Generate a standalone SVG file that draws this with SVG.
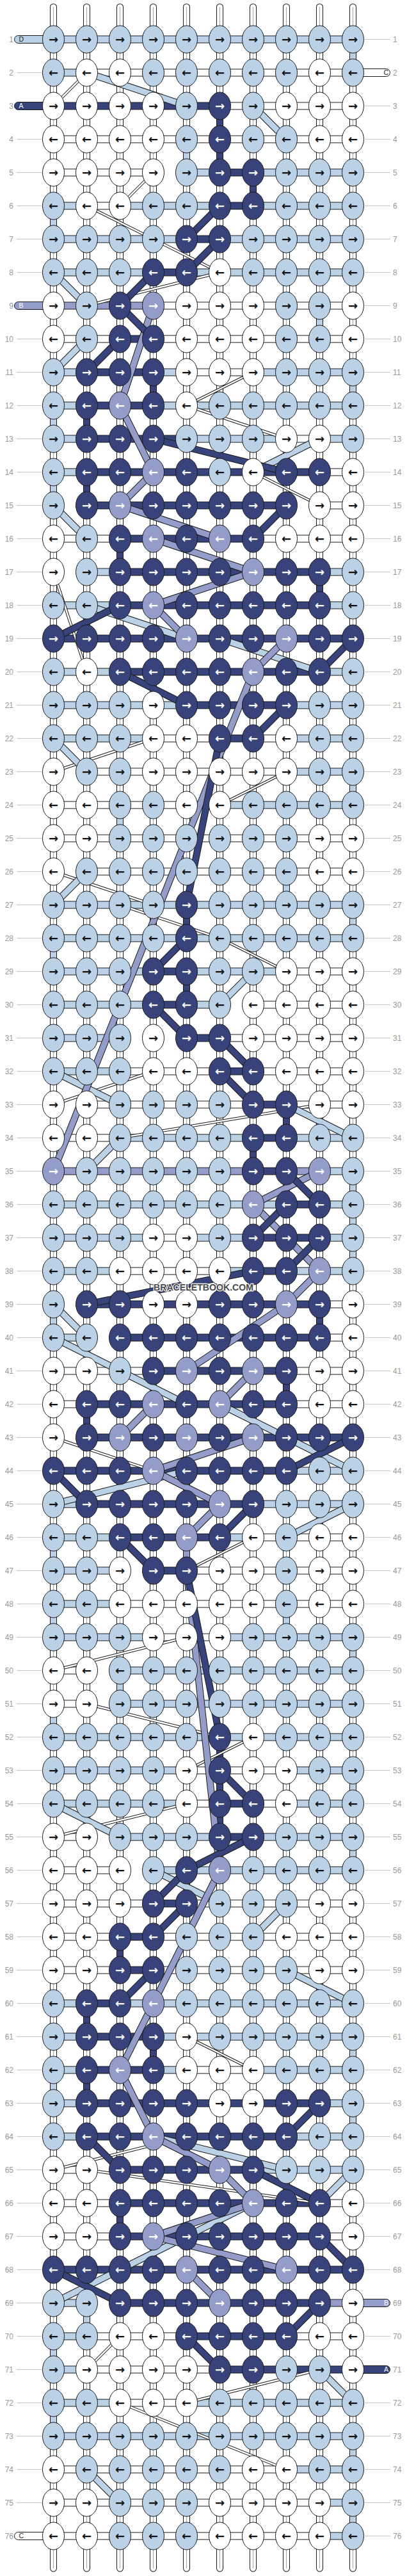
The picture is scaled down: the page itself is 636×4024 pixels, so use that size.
<svg xmlns="http://www.w3.org/2000/svg" width="636" height="4024" viewBox="0 0 636 4024">
<style>
ellipse{rx:17px;ry:21.5px;stroke:#1a1a1a;stroke-width:1}
.W{fill:#fff}.L{fill:#bbd1e5}.N{fill:#37437a}.P{fill:#949cc9}
.ar{font-family:"DejaVu Sans",sans-serif;font-weight:bold;font-size:18px;text-anchor:middle;fill:#111}
.w{fill:#fff}
.nl,.nr{font-family:"Liberation Sans",Arial,sans-serif;font-size:12px;fill:#999}
.nl{text-anchor:end}
.ll{stroke:#c4c4c4;stroke-width:1;fill:none}
.co{fill:none;stroke:#1a1a1a;stroke-width:11;stroke-linecap:round}
.cf{fill:none;stroke:#fff;stroke-width:9;stroke-linecap:round}
.cm{fill:none;stroke:#a8a8a8;stroke-width:1}
.o12{fill:none;stroke:#1a1a1a;stroke-width:12}
.f10{fill:none;stroke-width:10}
.o11{fill:none;stroke:#1a1a1a;stroke-width:11}
.f9{fill:none;stroke-width:9}
.o4{fill:none;stroke:#1a1a1a;stroke-width:4.5}
.f2{fill:none;stroke:#fff;stroke-width:2.5}
.sW{stroke:#fff}.sL{stroke:#bbd1e5}.sN{stroke:#37437a}.sP{stroke:#949cc9}
.stub{stroke:#1a1a1a;stroke-width:1}
.sl{font-family:"Liberation Sans",Arial,sans-serif;font-size:10.5px;fill:#222}
.slw{font-family:"Liberation Sans",Arial,sans-serif;font-size:10.5px;fill:#fff}
.wm{font-family:"Liberation Sans",Arial,sans-serif;font-weight:bold;font-size:15px;fill:#4a4a4a;stroke:#fff;stroke-width:2.5;paint-order:stroke;text-anchor:middle}
</style>
<defs>
<path id="cols" d="M83.5 11V4012M135.5 11V4012M187.5 11V4012M239.5 11V4012M291.5 11V4012M343.5 11V4012M395.5 11V4012M447.5 11V4012M499.5 11V4012M551.5 11V4012"/>
<path id="hW" d="M135.5 113.5H551.5M343.5 165.5H551.5M83.5 217.5H551.5M83.5 269.5H239.5M135.5 321.5H187.5M239.5 477.5H551.5M83.5 529.5H187.5M239.5 529.5H551.5M291.5 581.5H395.5M447.5 685.5H499.5M499.5 737.5H551.5M499.5 789.5H551.5M83.5 841.5H187.5M395.5 841.5H551.5M239.5 1153.5H343.5M395.5 1153.5H447.5M135.5 1205.5H447.5M83.5 1257.5H343.5M83.5 1309.5H551.5M135.5 1361.5H551.5M447.5 1517.5H551.5M395.5 1569.5H551.5M343.5 1621.5H551.5M187.5 1673.5H343.5M395.5 1673.5H551.5M135.5 1725.5H395.5M447.5 1725.5H551.5M83.5 1777.5H187.5M239.5 1933.5H291.5M187.5 1985.5H343.5M499.5 2037.5H551.5M499.5 2089.5H551.5M83.5 2141.5H239.5M447.5 2141.5H551.5M83.5 2193.5H135.5M447.5 2193.5H551.5M395.5 2401.5H551.5M291.5 2453.5H551.5M187.5 2505.5H551.5M239.5 2557.5H343.5M83.5 2609.5H135.5M83.5 2661.5H135.5M291.5 2765.5H447.5M291.5 2817.5H343.5M395.5 2817.5H447.5M83.5 2869.5H135.5M83.5 2921.5H187.5M83.5 2973.5H239.5M291.5 2973.5H551.5M83.5 3025.5H187.5M239.5 3025.5H551.5M83.5 3077.5H187.5M239.5 3077.5H551.5M291.5 3233.5H395.5M83.5 3389.5H135.5M83.5 3441.5H187.5M499.5 3441.5H551.5M83.5 3493.5H187.5M499.5 3493.5H551.5M135.5 3649.5H291.5M447.5 3649.5H551.5M135.5 3701.5H343.5M187.5 3753.5H291.5M83.5 3857.5H447.5M83.5 3909.5H499.5M83.5 3961.5H499.5"/>
<path id="hL" d="M83.5 61.5H551.5M83.5 113.5H135.5M291.5 269.5H343.5M395.5 269.5H551.5M83.5 321.5H135.5M187.5 321.5H343.5M395.5 321.5H551.5M83.5 373.5H291.5M343.5 373.5H551.5M83.5 425.5H239.5M291.5 425.5H551.5M83.5 581.5H135.5M239.5 581.5H291.5M395.5 581.5H551.5M83.5 633.5H135.5M239.5 633.5H551.5M83.5 685.5H135.5M291.5 685.5H447.5M499.5 685.5H551.5M83.5 737.5H135.5M135.5 893.5H187.5M499.5 893.5H551.5M83.5 945.5H187.5M499.5 945.5H551.5M83.5 1049.5H187.5M499.5 1049.5H551.5M83.5 1101.5H291.5M447.5 1101.5H551.5M83.5 1153.5H239.5M447.5 1153.5H551.5M447.5 1205.5H551.5M343.5 1257.5H551.5M83.5 1413.5H551.5M83.5 1465.5H551.5M83.5 1517.5H239.5M291.5 1517.5H447.5M83.5 1569.5H239.5M291.5 1569.5H343.5M83.5 1621.5H187.5M83.5 1673.5H187.5M187.5 1777.5H395.5M447.5 1777.5H551.5M499.5 1829.5H551.5M83.5 1881.5H447.5M499.5 1881.5H551.5M83.5 1933.5H239.5M291.5 1933.5H395.5M499.5 1933.5H551.5M83.5 1985.5H187.5M343.5 1985.5H395.5M447.5 1985.5H551.5M83.5 2089.5H135.5M447.5 2297.5H551.5M83.5 2349.5H135.5M395.5 2349.5H551.5M83.5 2401.5H187.5M343.5 2401.5H395.5M83.5 2453.5H187.5M83.5 2505.5H187.5M83.5 2557.5H239.5M343.5 2557.5H551.5M187.5 2609.5H551.5M187.5 2661.5H551.5M83.5 2713.5H551.5M83.5 2765.5H291.5M447.5 2765.5H551.5M83.5 2817.5H291.5M447.5 2817.5H551.5M187.5 2869.5H343.5M395.5 2869.5H551.5M239.5 2921.5H551.5M83.5 3129.5H135.5M187.5 3129.5H551.5M83.5 3181.5H135.5M239.5 3181.5H551.5M83.5 3233.5H135.5M239.5 3233.5H291.5M395.5 3233.5H551.5M83.5 3285.5H135.5M499.5 3285.5H551.5M83.5 3337.5H135.5M447.5 3337.5H551.5M395.5 3389.5H551.5M83.5 3597.5H135.5M83.5 3649.5H135.5M83.5 3701.5H135.5M83.5 3753.5H187.5M291.5 3753.5H551.5M83.5 3805.5H551.5M447.5 3857.5H551.5M499.5 3909.5H551.5M499.5 3961.5H551.5"/>
<path id="hN" d="M83.5 165.5H343.5M343.5 269.5H395.5M343.5 321.5H395.5M291.5 373.5H343.5M239.5 425.5H291.5M187.5 529.5H239.5M135.5 581.5H239.5M135.5 633.5H239.5M135.5 685.5H291.5M135.5 737.5H499.5M135.5 789.5H447.5M187.5 841.5H395.5M187.5 893.5H499.5M187.5 945.5H499.5M83.5 997.5H551.5M187.5 1049.5H499.5M291.5 1101.5H447.5M343.5 1153.5H395.5M239.5 1517.5H291.5M239.5 1569.5H291.5M291.5 1621.5H343.5M343.5 1673.5H395.5M395.5 1725.5H447.5M395.5 1777.5H447.5M395.5 1829.5H447.5M447.5 1881.5H499.5M395.5 1933.5H499.5M395.5 1985.5H447.5M135.5 2037.5H499.5M187.5 2089.5H499.5M239.5 2141.5H447.5M135.5 2193.5H447.5M135.5 2245.5H551.5M83.5 2297.5H447.5M135.5 2349.5H395.5M187.5 2401.5H343.5M239.5 2453.5H291.5M343.5 2817.5H395.5M343.5 2869.5H395.5M239.5 2973.5H291.5M187.5 3025.5H239.5M187.5 3077.5H239.5M135.5 3129.5H187.5M135.5 3181.5H239.5M135.5 3233.5H239.5M135.5 3285.5H499.5M135.5 3337.5H447.5M187.5 3389.5H395.5M187.5 3441.5H499.5M187.5 3493.5H499.5M83.5 3545.5H551.5M187.5 3597.5H499.5M291.5 3649.5H447.5M343.5 3701.5H551.5"/>
<path id="hP" d="M83.5 477.5H239.5M83.5 1829.5H395.5M447.5 1829.5H499.5M499.5 3597.5H551.5"/>
<path id="vN" d="M343.5 165.5V269.5M395.5 269.5V321.5M239.5 581.5V633.5M135.5 633.5V685.5M135.5 737.5V789.5M187.5 841.5V893.5M499.5 893.5V945.5M291.5 1413.5V1465.5M291.5 1517.5V1569.5M447.5 1725.5V1777.5M395.5 1777.5V1829.5M499.5 2037.5V2089.5M447.5 2141.5V2193.5M135.5 2193.5V2245.5M343.5 2713.5V2869.5M187.5 3025.5V3077.5M135.5 3129.5V3181.5M239.5 3181.5V3233.5M135.5 3233.5V3285.5M187.5 3441.5V3493.5"/>
<path id="vL" d="M551.5 61.5V113.5M291.5 217.5V269.5M83.5 321.5V373.5M499.5 477.5V529.5M551.5 581.5V633.5M83.5 633.5V685.5M83.5 737.5V789.5M551.5 1205.5V1257.5M187.5 1257.5V1309.5M447.5 1361.5V1413.5M551.5 1413.5V1465.5M83.5 1465.5V1517.5M551.5 1829.5V1985.5M83.5 2037.5V2089.5M83.5 2401.5V2453.5M83.5 2505.5V2557.5M447.5 2505.5V2557.5M551.5 2557.5V2609.5M187.5 2609.5V2661.5M83.5 2661.5V2713.5M551.5 2765.5V2817.5M551.5 2869.5V2921.5M551.5 3181.5V3233.5M83.5 3233.5V3285.5M551.5 3285.5V3337.5M135.5 3597.5V3649.5M83.5 3649.5V3701.5M83.5 3753.5V3805.5M551.5 3805.5V3857.5M551.5 3909.5V3961.5"/>
<path id="vP" d="M291.5 2401.5V2453.5"/>
<path id="dW" d="M135.5 113.5L83.5 165.5M239.5 269.5L187.5 321.5M135.5 321.5L239.5 373.5M135.5 321.5L343.5 425.5M343.5 425.5L135.5 477.5M291.5 633.5L395.5 581.5M291.5 633.5L447.5 685.5M395.5 737.5L499.5 789.5M83.5 893.5L135.5 1049.5M83.5 1205.5L239.5 1153.5M343.5 1257.5L447.5 1205.5M83.5 1361.5L239.5 1413.5M187.5 1413.5L343.5 1465.5M343.5 1465.5L447.5 1517.5M83.5 1725.5L239.5 1673.5M187.5 1777.5L499.5 1725.5M83.5 2245.5L239.5 2297.5M291.5 2453.5L395.5 2401.5M83.5 2609.5L291.5 2557.5M135.5 2661.5L343.5 2713.5M291.5 2765.5L395.5 2713.5M83.5 2869.5L291.5 2817.5M291.5 3181.5L395.5 3233.5M83.5 3389.5L291.5 3337.5M135.5 3389.5L499.5 3441.5M187.5 3649.5L135.5 3701.5M291.5 3753.5L499.5 3701.5M187.5 3753.5L447.5 3857.5"/>
<path id="dL" d="M135.5 113.5L291.5 165.5M395.5 165.5L447.5 217.5M83.5 425.5L135.5 477.5M135.5 529.5L83.5 581.5M499.5 685.5L395.5 737.5M83.5 789.5L135.5 841.5M135.5 945.5L291.5 997.5M343.5 997.5L499.5 1049.5M83.5 1153.5L135.5 1205.5M135.5 1361.5L83.5 1413.5M395.5 1517.5L343.5 1569.5M83.5 1673.5L187.5 1725.5M447.5 1725.5L551.5 1777.5M187.5 1777.5L135.5 1829.5M83.5 2037.5L135.5 2089.5M83.5 2089.5L187.5 2141.5M187.5 2141.5L291.5 2193.5M343.5 2193.5L447.5 2245.5M447.5 2245.5L551.5 2297.5M83.5 2349.5L291.5 2297.5M551.5 2349.5L447.5 2401.5M83.5 2817.5L187.5 2869.5M239.5 2921.5L343.5 2973.5M447.5 2973.5L395.5 3025.5M447.5 3077.5L551.5 3129.5M239.5 3337.5L447.5 3389.5M551.5 3389.5L499.5 3441.5M395.5 3441.5L187.5 3545.5M83.5 3597.5L187.5 3545.5M499.5 3701.5L551.5 3753.5M135.5 3857.5L187.5 3909.5"/>
<path id="dP" d="M239.5 477.5L187.5 633.5M187.5 633.5L239.5 737.5M239.5 737.5L187.5 789.5M187.5 789.5L343.5 841.5M239.5 841.5L395.5 893.5M395.5 893.5L239.5 945.5M239.5 945.5L291.5 997.5M447.5 997.5L395.5 1049.5M395.5 1049.5L83.5 1829.5M499.5 1829.5L395.5 1881.5M395.5 1881.5L499.5 1985.5M499.5 1985.5L447.5 2037.5M447.5 2037.5L291.5 2141.5M395.5 2141.5L343.5 2193.5M239.5 2193.5L187.5 2245.5M395.5 2245.5L239.5 2297.5M239.5 2297.5L343.5 2349.5M343.5 2349.5L291.5 2401.5M291.5 2453.5L343.5 2921.5M343.5 2921.5L187.5 3233.5M187.5 3233.5L239.5 3337.5M239.5 3337.5L343.5 3389.5M343.5 3389.5L395.5 3441.5M395.5 3441.5L239.5 3493.5M239.5 3493.5L447.5 3545.5M291.5 3545.5L343.5 3597.5"/>
<path id="dN" d="M343.5 321.5L291.5 373.5M343.5 373.5L291.5 425.5M239.5 425.5L187.5 477.5M187.5 477.5L239.5 529.5M187.5 529.5L135.5 581.5M239.5 685.5L447.5 737.5M447.5 789.5L395.5 841.5M187.5 945.5L83.5 997.5M551.5 997.5L499.5 1049.5M187.5 1049.5L291.5 1101.5M447.5 1101.5L395.5 1153.5M343.5 1153.5L291.5 1413.5M291.5 1465.5L239.5 1517.5M239.5 1569.5L291.5 1621.5M343.5 1621.5L395.5 1673.5M343.5 1673.5L395.5 1725.5M447.5 1829.5L499.5 1881.5M447.5 1881.5L395.5 1933.5M499.5 1933.5L447.5 1985.5M395.5 1985.5L135.5 2037.5M83.5 2297.5L135.5 2349.5M187.5 2401.5L239.5 2453.5M395.5 2349.5L343.5 2401.5M447.5 2297.5L551.5 2245.5M291.5 2453.5L343.5 2713.5M343.5 2765.5L395.5 2817.5M395.5 2869.5L291.5 2921.5M291.5 2921.5L239.5 2973.5M291.5 2973.5L239.5 3025.5M239.5 3077.5L187.5 3129.5M499.5 3285.5L447.5 3337.5M135.5 3337.5L187.5 3389.5M395.5 3389.5L499.5 3441.5M499.5 3493.5L551.5 3545.5M83.5 3545.5L187.5 3597.5M499.5 3597.5L447.5 3649.5M291.5 3649.5L343.5 3701.5"/>
</defs>
<rect width="636" height="4024" fill="#fff"/>
<g id="connectors">
<use href="#cols" class="co"/><use href="#cols" class="cf"/><use href="#cols" class="cm"/>
<use href="#hW" class="o12"/><use href="#hW" class="f10 sW"/>
<use href="#hL" class="o12"/><use href="#hL" class="f10 sL"/>
<use href="#hN" class="o12"/><use href="#hN" class="f10 sN"/>
<use href="#hP" class="o12"/><use href="#hP" class="f10 sP"/>
<use href="#vL" class="o11"/><use href="#vL" class="f9 sL"/>
<use href="#vN" class="o11"/><use href="#vN" class="f9 sN"/>
<use href="#vP" class="o11"/><use href="#vP" class="f9 sP"/>
<use href="#dW" class="o4"/><use href="#dW" class="f2"/>
<use href="#dL" class="o11"/><use href="#dL" class="f9 sL"/>
<use href="#dP" class="o11"/><use href="#dP" class="f9 sP"/>
<use href="#dN" class="o11"/><use href="#dN" class="f9 sN"/>
</g>
<g id="string-ends">
<rect class="stub L" x="22.5" y="55.5" width="70" height="12" rx="6"/><text class="sl" x="29.5" y="65.3">D</text>
<rect class="stub N" x="22.5" y="159.5" width="70" height="12" rx="6"/><text class="slw" x="29.5" y="169.3">A</text>
<rect class="stub P" x="22.5" y="471.5" width="70" height="12" rx="6"/><text class="slw" x="29.5" y="481.3">B</text>
<rect class="stub W" x="22.5" y="3955.5" width="70" height="12" rx="6"/><text class="sl" x="29.5" y="3965.3">C</text>
<rect class="stub W" x="541.5" y="107.5" width="68" height="12" rx="6"/><text class="sl" x="607" y="117.3" text-anchor="end">C</text>
<rect class="stub P" x="541.5" y="3591.5" width="68" height="12" rx="6"/><text class="slw" x="607" y="3601.3" text-anchor="end">B</text>
<rect class="stub N" x="541.5" y="3695.5" width="68" height="12" rx="6"/><text class="slw" x="607" y="3705.3" text-anchor="end">A</text>
</g>
<g id="knots">
<g id="row-1" transform="translate(0 61.5)"><path class="ll" d="M570 0H610"/><ellipse class="L" cx="83.5"/><ellipse class="L" cx="135.5"/><ellipse class="L" cx="187.5"/><ellipse class="L" cx="239.5"/><ellipse class="L" cx="291.5"/><ellipse class="L" cx="343.5"/><ellipse class="L" cx="395.5"/><ellipse class="L" cx="447.5"/><ellipse class="L" cx="499.5"/><ellipse class="L" cx="551.5"/><text class="ar" x="83.5 135.5 187.5 239.5 291.5 343.5 395.5 447.5 499.5 551.5" y="6">→→→→→→→→→→</text><text class="nl" x="21" y="4.3">1</text><text class="nr" x="614" y="4.3">1</text></g>
<g id="row-2" transform="translate(0 113.5)"><path class="ll" d="M26 0H66"/><ellipse class="L" cx="83.5"/><ellipse class="W" cx="135.5"/><ellipse class="W" cx="187.5"/><ellipse class="L" cx="239.5"/><ellipse class="L" cx="291.5"/><ellipse class="L" cx="343.5"/><ellipse class="L" cx="395.5"/><ellipse class="L" cx="447.5"/><ellipse class="W" cx="499.5"/><ellipse class="L" cx="551.5"/><text class="ar" x="83.5 135.5 187.5 239.5 291.5 343.5 395.5 447.5 499.5 551.5" y="6">←←←←←←←←←←</text><text class="nl" x="21" y="4.3">2</text><text class="nr" x="614" y="4.3">2</text></g>
<g id="row-3" transform="translate(0 165.5)"><path class="ll" d="M570 0H610"/><ellipse class="W" cx="83.5"/><ellipse class="W" cx="135.5"/><ellipse class="W" cx="187.5"/><ellipse class="W" cx="239.5"/><ellipse class="L" cx="291.5"/><ellipse class="N" cx="343.5"/><ellipse class="L" cx="395.5"/><ellipse class="W" cx="447.5"/><ellipse class="W" cx="499.5"/><ellipse class="W" cx="551.5"/><text class="ar" x="83.5 135.5 187.5 239.5 291.5 343.5 395.5 447.5 499.5 551.5" y="6">→→→→→<tspan class="w">→</tspan>→→→→</text><text class="nl" x="21" y="4.3">3</text><text class="nr" x="614" y="4.3">3</text></g>
<g id="row-4" transform="translate(0 217.5)"><path class="ll" d="M26 0H66M570 0H610"/><ellipse class="W" cx="83.5"/><ellipse class="W" cx="135.5"/><ellipse class="W" cx="187.5"/><ellipse class="W" cx="239.5"/><ellipse class="L" cx="291.5"/><ellipse class="N" cx="343.5"/><ellipse class="L" cx="395.5"/><ellipse class="L" cx="447.5"/><ellipse class="W" cx="499.5"/><ellipse class="W" cx="551.5"/><text class="ar" x="83.5 135.5 187.5 239.5 291.5 343.5 395.5 447.5 499.5 551.5" y="6">←←←←←<tspan class="w">←</tspan>←←←←</text><text class="nl" x="21" y="4.3">4</text><text class="nr" x="614" y="4.3">4</text></g>
<g id="row-5" transform="translate(0 269.5)"><path class="ll" d="M26 0H66M570 0H610"/><ellipse class="W" cx="83.5"/><ellipse class="W" cx="135.5"/><ellipse class="W" cx="187.5"/><ellipse class="W" cx="239.5"/><ellipse class="L" cx="291.5"/><ellipse class="N" cx="343.5"/><ellipse class="N" cx="395.5"/><ellipse class="L" cx="447.5"/><ellipse class="L" cx="499.5"/><ellipse class="L" cx="551.5"/><text class="ar" x="83.5 135.5 187.5 239.5 291.5 343.5 395.5 447.5 499.5 551.5" y="6">→→→→→<tspan class="w">→→</tspan>→→→</text><text class="nl" x="21" y="4.3">5</text><text class="nr" x="614" y="4.3">5</text></g>
<g id="row-6" transform="translate(0 321.5)"><path class="ll" d="M26 0H66M570 0H610"/><ellipse class="L" cx="83.5"/><ellipse class="W" cx="135.5"/><ellipse class="W" cx="187.5"/><ellipse class="L" cx="239.5"/><ellipse class="L" cx="291.5"/><ellipse class="N" cx="343.5"/><ellipse class="N" cx="395.5"/><ellipse class="L" cx="447.5"/><ellipse class="L" cx="499.5"/><ellipse class="L" cx="551.5"/><text class="ar" x="83.5 135.5 187.5 239.5 291.5 343.5 395.5 447.5 499.5 551.5" y="6">←←←←←<tspan class="w">←←</tspan>←←←</text><text class="nl" x="21" y="4.3">6</text><text class="nr" x="614" y="4.3">6</text></g>
<g id="row-7" transform="translate(0 373.5)"><path class="ll" d="M26 0H66M570 0H610"/><ellipse class="L" cx="83.5"/><ellipse class="L" cx="135.5"/><ellipse class="L" cx="187.5"/><ellipse class="L" cx="239.5"/><ellipse class="N" cx="291.5"/><ellipse class="N" cx="343.5"/><ellipse class="L" cx="395.5"/><ellipse class="L" cx="447.5"/><ellipse class="L" cx="499.5"/><ellipse class="L" cx="551.5"/><text class="ar" x="83.5 135.5 187.5 239.5 291.5 343.5 395.5 447.5 499.5 551.5" y="6">→→→→<tspan class="w">→→</tspan>→→→→</text><text class="nl" x="21" y="4.3">7</text><text class="nr" x="614" y="4.3">7</text></g>
<g id="row-8" transform="translate(0 425.5)"><path class="ll" d="M26 0H66M570 0H610"/><ellipse class="L" cx="83.5"/><ellipse class="L" cx="135.5"/><ellipse class="L" cx="187.5"/><ellipse class="N" cx="239.5"/><ellipse class="N" cx="291.5"/><ellipse class="W" cx="343.5"/><ellipse class="L" cx="395.5"/><ellipse class="L" cx="447.5"/><ellipse class="L" cx="499.5"/><ellipse class="L" cx="551.5"/><text class="ar" x="83.5 135.5 187.5 239.5 291.5 343.5 395.5 447.5 499.5 551.5" y="6">←←←<tspan class="w">←←</tspan>←←←←←</text><text class="nl" x="21" y="4.3">8</text><text class="nr" x="614" y="4.3">8</text></g>
<g id="row-9" transform="translate(0 477.5)"><path class="ll" d="M570 0H610"/><ellipse class="W" cx="83.5"/><ellipse class="L" cx="135.5"/><ellipse class="N" cx="187.5"/><ellipse class="P" cx="239.5"/><ellipse class="W" cx="291.5"/><ellipse class="W" cx="343.5"/><ellipse class="W" cx="395.5"/><ellipse class="L" cx="447.5"/><ellipse class="L" cx="499.5"/><ellipse class="W" cx="551.5"/><text class="ar" x="83.5 135.5 187.5 239.5 291.5 343.5 395.5 447.5 499.5 551.5" y="6">→→<tspan class="w">→→</tspan>→→→→→→</text><text class="nl" x="21" y="4.3">9</text><text class="nr" x="614" y="4.3">9</text></g>
<g id="row-10" transform="translate(0 529.5)"><path class="ll" d="M26 0H66M570 0H610"/><ellipse class="W" cx="83.5"/><ellipse class="L" cx="135.5"/><ellipse class="N" cx="187.5"/><ellipse class="N" cx="239.5"/><ellipse class="W" cx="291.5"/><ellipse class="W" cx="343.5"/><ellipse class="W" cx="395.5"/><ellipse class="L" cx="447.5"/><ellipse class="L" cx="499.5"/><ellipse class="W" cx="551.5"/><text class="ar" x="83.5 135.5 187.5 239.5 291.5 343.5 395.5 447.5 499.5 551.5" y="6">←←<tspan class="w">←←</tspan>←←←←←←</text><text class="nl" x="21" y="4.3">10</text><text class="nr" x="614" y="4.3">10</text></g>
<g id="row-11" transform="translate(0 581.5)"><path class="ll" d="M26 0H66M570 0H610"/><ellipse class="L" cx="83.5"/><ellipse class="N" cx="135.5"/><ellipse class="N" cx="187.5"/><ellipse class="N" cx="239.5"/><ellipse class="W" cx="291.5"/><ellipse class="W" cx="343.5"/><ellipse class="W" cx="395.5"/><ellipse class="L" cx="447.5"/><ellipse class="L" cx="499.5"/><ellipse class="L" cx="551.5"/><text class="ar" x="83.5 135.5 187.5 239.5 291.5 343.5 395.5 447.5 499.5 551.5" y="6">→<tspan class="w">→→→</tspan>→→→→→→</text><text class="nl" x="21" y="4.3">11</text><text class="nr" x="614" y="4.3">11</text></g>
<g id="row-12" transform="translate(0 633.5)"><path class="ll" d="M26 0H66M570 0H610"/><ellipse class="L" cx="83.5"/><ellipse class="N" cx="135.5"/><ellipse class="P" cx="187.5"/><ellipse class="N" cx="239.5"/><ellipse class="W" cx="291.5"/><ellipse class="L" cx="343.5"/><ellipse class="L" cx="395.5"/><ellipse class="L" cx="447.5"/><ellipse class="L" cx="499.5"/><ellipse class="L" cx="551.5"/><text class="ar" x="83.5 135.5 187.5 239.5 291.5 343.5 395.5 447.5 499.5 551.5" y="6">←<tspan class="w">←←←</tspan>←←←←←←</text><text class="nl" x="21" y="4.3">12</text><text class="nr" x="614" y="4.3">12</text></g>
<g id="row-13" transform="translate(0 685.5)"><path class="ll" d="M26 0H66M570 0H610"/><ellipse class="L" cx="83.5"/><ellipse class="N" cx="135.5"/><ellipse class="N" cx="187.5"/><ellipse class="N" cx="239.5"/><ellipse class="L" cx="291.5"/><ellipse class="L" cx="343.5"/><ellipse class="L" cx="395.5"/><ellipse class="W" cx="447.5"/><ellipse class="W" cx="499.5"/><ellipse class="L" cx="551.5"/><text class="ar" x="83.5 135.5 187.5 239.5 291.5 343.5 395.5 447.5 499.5 551.5" y="6">→<tspan class="w">→→→</tspan>→→→→→→</text><text class="nl" x="21" y="4.3">13</text><text class="nr" x="614" y="4.3">13</text></g>
<g id="row-14" transform="translate(0 737.5)"><path class="ll" d="M26 0H66M570 0H610"/><ellipse class="L" cx="83.5"/><ellipse class="N" cx="135.5"/><ellipse class="N" cx="187.5"/><ellipse class="P" cx="239.5"/><ellipse class="N" cx="291.5"/><ellipse class="L" cx="343.5"/><ellipse class="W" cx="395.5"/><ellipse class="N" cx="447.5"/><ellipse class="N" cx="499.5"/><ellipse class="W" cx="551.5"/><text class="ar" x="83.5 135.5 187.5 239.5 291.5 343.5 395.5 447.5 499.5 551.5" y="6">←<tspan class="w">←←←←</tspan>←←<tspan class="w">←←</tspan>←</text><text class="nl" x="21" y="4.3">14</text><text class="nr" x="614" y="4.3">14</text></g>
<g id="row-15" transform="translate(0 789.5)"><path class="ll" d="M26 0H66M570 0H610"/><ellipse class="L" cx="83.5"/><ellipse class="N" cx="135.5"/><ellipse class="P" cx="187.5"/><ellipse class="N" cx="239.5"/><ellipse class="N" cx="291.5"/><ellipse class="N" cx="343.5"/><ellipse class="N" cx="395.5"/><ellipse class="N" cx="447.5"/><ellipse class="W" cx="499.5"/><ellipse class="W" cx="551.5"/><text class="ar" x="83.5 135.5 187.5 239.5 291.5 343.5 395.5 447.5 499.5 551.5" y="6">→<tspan class="w">→→→→→→→</tspan>→→</text><text class="nl" x="21" y="4.3">15</text><text class="nr" x="614" y="4.3">15</text></g>
<g id="row-16" transform="translate(0 841.5)"><path class="ll" d="M26 0H66M570 0H610"/><ellipse class="W" cx="83.5"/><ellipse class="L" cx="135.5"/><ellipse class="N" cx="187.5"/><ellipse class="P" cx="239.5"/><ellipse class="N" cx="291.5"/><ellipse class="P" cx="343.5"/><ellipse class="N" cx="395.5"/><ellipse class="W" cx="447.5"/><ellipse class="W" cx="499.5"/><ellipse class="W" cx="551.5"/><text class="ar" x="83.5 135.5 187.5 239.5 291.5 343.5 395.5 447.5 499.5 551.5" y="6">←←<tspan class="w">←←←←←</tspan>←←←</text><text class="nl" x="21" y="4.3">16</text><text class="nr" x="614" y="4.3">16</text></g>
<g id="row-17" transform="translate(0 893.5)"><path class="ll" d="M26 0H66M570 0H610"/><ellipse class="W" cx="83.5"/><ellipse class="L" cx="135.5"/><ellipse class="N" cx="187.5"/><ellipse class="N" cx="239.5"/><ellipse class="N" cx="291.5"/><ellipse class="N" cx="343.5"/><ellipse class="P" cx="395.5"/><ellipse class="N" cx="447.5"/><ellipse class="N" cx="499.5"/><ellipse class="L" cx="551.5"/><text class="ar" x="83.5 135.5 187.5 239.5 291.5 343.5 395.5 447.5 499.5 551.5" y="6">→→<tspan class="w">→→→→→→→</tspan>→</text><text class="nl" x="21" y="4.3">17</text><text class="nr" x="614" y="4.3">17</text></g>
<g id="row-18" transform="translate(0 945.5)"><path class="ll" d="M26 0H66M570 0H610"/><ellipse class="L" cx="83.5"/><ellipse class="L" cx="135.5"/><ellipse class="N" cx="187.5"/><ellipse class="P" cx="239.5"/><ellipse class="N" cx="291.5"/><ellipse class="N" cx="343.5"/><ellipse class="N" cx="395.5"/><ellipse class="N" cx="447.5"/><ellipse class="N" cx="499.5"/><ellipse class="L" cx="551.5"/><text class="ar" x="83.5 135.5 187.5 239.5 291.5 343.5 395.5 447.5 499.5 551.5" y="6">←←<tspan class="w">←←←←←←←</tspan>←</text><text class="nl" x="21" y="4.3">18</text><text class="nr" x="614" y="4.3">18</text></g>
<g id="row-19" transform="translate(0 997.5)"><path class="ll" d="M26 0H66M570 0H610"/><ellipse class="N" cx="83.5"/><ellipse class="N" cx="135.5"/><ellipse class="N" cx="187.5"/><ellipse class="N" cx="239.5"/><ellipse class="P" cx="291.5"/><ellipse class="N" cx="343.5"/><ellipse class="N" cx="395.5"/><ellipse class="P" cx="447.5"/><ellipse class="N" cx="499.5"/><ellipse class="N" cx="551.5"/><text class="ar" x="83.5 135.5 187.5 239.5 291.5 343.5 395.5 447.5 499.5 551.5" y="6"><tspan class="w">→→→→→→→→→→</tspan></text><text class="nl" x="21" y="4.3">19</text><text class="nr" x="614" y="4.3">19</text></g>
<g id="row-20" transform="translate(0 1049.5)"><path class="ll" d="M26 0H66M570 0H610"/><ellipse class="L" cx="83.5"/><ellipse class="W" cx="135.5"/><ellipse class="N" cx="187.5"/><ellipse class="N" cx="239.5"/><ellipse class="N" cx="291.5"/><ellipse class="N" cx="343.5"/><ellipse class="P" cx="395.5"/><ellipse class="N" cx="447.5"/><ellipse class="N" cx="499.5"/><ellipse class="L" cx="551.5"/><text class="ar" x="83.5 135.5 187.5 239.5 291.5 343.5 395.5 447.5 499.5 551.5" y="6">←←<tspan class="w">←←←←←←←</tspan>←</text><text class="nl" x="21" y="4.3">20</text><text class="nr" x="614" y="4.3">20</text></g>
<g id="row-21" transform="translate(0 1101.5)"><path class="ll" d="M26 0H66M570 0H610"/><ellipse class="L" cx="83.5"/><ellipse class="L" cx="135.5"/><ellipse class="L" cx="187.5"/><ellipse class="W" cx="239.5"/><ellipse class="N" cx="291.5"/><ellipse class="N" cx="343.5"/><ellipse class="N" cx="395.5"/><ellipse class="N" cx="447.5"/><ellipse class="L" cx="499.5"/><ellipse class="L" cx="551.5"/><text class="ar" x="83.5 135.5 187.5 239.5 291.5 343.5 395.5 447.5 499.5 551.5" y="6">→→→→<tspan class="w">→→→→</tspan>→→</text><text class="nl" x="21" y="4.3">21</text><text class="nr" x="614" y="4.3">21</text></g>
<g id="row-22" transform="translate(0 1153.5)"><path class="ll" d="M26 0H66M570 0H610"/><ellipse class="L" cx="83.5"/><ellipse class="L" cx="135.5"/><ellipse class="L" cx="187.5"/><ellipse class="W" cx="239.5"/><ellipse class="W" cx="291.5"/><ellipse class="N" cx="343.5"/><ellipse class="N" cx="395.5"/><ellipse class="W" cx="447.5"/><ellipse class="L" cx="499.5"/><ellipse class="L" cx="551.5"/><text class="ar" x="83.5 135.5 187.5 239.5 291.5 343.5 395.5 447.5 499.5 551.5" y="6">←←←←←<tspan class="w">←←</tspan>←←←</text><text class="nl" x="21" y="4.3">22</text><text class="nr" x="614" y="4.3">22</text></g>
<g id="row-23" transform="translate(0 1205.5)"><path class="ll" d="M26 0H66M570 0H610"/><ellipse class="W" cx="83.5"/><ellipse class="L" cx="135.5"/><ellipse class="L" cx="187.5"/><ellipse class="W" cx="239.5"/><ellipse class="W" cx="291.5"/><ellipse class="W" cx="343.5"/><ellipse class="W" cx="395.5"/><ellipse class="W" cx="447.5"/><ellipse class="L" cx="499.5"/><ellipse class="L" cx="551.5"/><text class="ar" x="83.5 135.5 187.5 239.5 291.5 343.5 395.5 447.5 499.5 551.5" y="6">→→→→→→→→→→</text><text class="nl" x="21" y="4.3">23</text><text class="nr" x="614" y="4.3">23</text></g>
<g id="row-24" transform="translate(0 1257.5)"><path class="ll" d="M26 0H66M570 0H610"/><ellipse class="W" cx="83.5"/><ellipse class="W" cx="135.5"/><ellipse class="L" cx="187.5"/><ellipse class="L" cx="239.5"/><ellipse class="W" cx="291.5"/><ellipse class="W" cx="343.5"/><ellipse class="L" cx="395.5"/><ellipse class="L" cx="447.5"/><ellipse class="L" cx="499.5"/><ellipse class="L" cx="551.5"/><text class="ar" x="83.5 135.5 187.5 239.5 291.5 343.5 395.5 447.5 499.5 551.5" y="6">←←←←←←←←←←</text><text class="nl" x="21" y="4.3">24</text><text class="nr" x="614" y="4.3">24</text></g>
<g id="row-25" transform="translate(0 1309.5)"><path class="ll" d="M26 0H66M570 0H610"/><ellipse class="W" cx="83.5"/><ellipse class="W" cx="135.5"/><ellipse class="L" cx="187.5"/><ellipse class="L" cx="239.5"/><ellipse class="L" cx="291.5"/><ellipse class="L" cx="343.5"/><ellipse class="L" cx="395.5"/><ellipse class="L" cx="447.5"/><ellipse class="W" cx="499.5"/><ellipse class="W" cx="551.5"/><text class="ar" x="83.5 135.5 187.5 239.5 291.5 343.5 395.5 447.5 499.5 551.5" y="6">→→→→→→→→→→</text><text class="nl" x="21" y="4.3">25</text><text class="nr" x="614" y="4.3">25</text></g>
<g id="row-26" transform="translate(0 1361.5)"><path class="ll" d="M26 0H66M570 0H610"/><ellipse class="W" cx="83.5"/><ellipse class="L" cx="135.5"/><ellipse class="L" cx="187.5"/><ellipse class="L" cx="239.5"/><ellipse class="L" cx="291.5"/><ellipse class="L" cx="343.5"/><ellipse class="L" cx="395.5"/><ellipse class="L" cx="447.5"/><ellipse class="W" cx="499.5"/><ellipse class="W" cx="551.5"/><text class="ar" x="83.5 135.5 187.5 239.5 291.5 343.5 395.5 447.5 499.5 551.5" y="6">←←←←←←←←←←</text><text class="nl" x="21" y="4.3">26</text><text class="nr" x="614" y="4.3">26</text></g>
<g id="row-27" transform="translate(0 1413.5)"><path class="ll" d="M26 0H66M570 0H610"/><ellipse class="L" cx="83.5"/><ellipse class="L" cx="135.5"/><ellipse class="L" cx="187.5"/><ellipse class="L" cx="239.5"/><ellipse class="N" cx="291.5"/><ellipse class="L" cx="343.5"/><ellipse class="L" cx="395.5"/><ellipse class="L" cx="447.5"/><ellipse class="L" cx="499.5"/><ellipse class="L" cx="551.5"/><text class="ar" x="83.5 135.5 187.5 239.5 291.5 343.5 395.5 447.5 499.5 551.5" y="6">→→→→<tspan class="w">→</tspan>→→→→→</text><text class="nl" x="21" y="4.3">27</text><text class="nr" x="614" y="4.3">27</text></g>
<g id="row-28" transform="translate(0 1465.5)"><path class="ll" d="M26 0H66M570 0H610"/><ellipse class="L" cx="83.5"/><ellipse class="L" cx="135.5"/><ellipse class="L" cx="187.5"/><ellipse class="L" cx="239.5"/><ellipse class="N" cx="291.5"/><ellipse class="L" cx="343.5"/><ellipse class="L" cx="395.5"/><ellipse class="L" cx="447.5"/><ellipse class="L" cx="499.5"/><ellipse class="L" cx="551.5"/><text class="ar" x="83.5 135.5 187.5 239.5 291.5 343.5 395.5 447.5 499.5 551.5" y="6">←←←←<tspan class="w">←</tspan>←←←←←</text><text class="nl" x="21" y="4.3">28</text><text class="nr" x="614" y="4.3">28</text></g>
<g id="row-29" transform="translate(0 1517.5)"><path class="ll" d="M26 0H66M570 0H610"/><ellipse class="L" cx="83.5"/><ellipse class="L" cx="135.5"/><ellipse class="L" cx="187.5"/><ellipse class="N" cx="239.5"/><ellipse class="N" cx="291.5"/><ellipse class="L" cx="343.5"/><ellipse class="L" cx="395.5"/><ellipse class="W" cx="447.5"/><ellipse class="W" cx="499.5"/><ellipse class="W" cx="551.5"/><text class="ar" x="83.5 135.5 187.5 239.5 291.5 343.5 395.5 447.5 499.5 551.5" y="6">→→→<tspan class="w">→→</tspan>→→→→→</text><text class="nl" x="21" y="4.3">29</text><text class="nr" x="614" y="4.3">29</text></g>
<g id="row-30" transform="translate(0 1569.5)"><path class="ll" d="M26 0H66M570 0H610"/><ellipse class="L" cx="83.5"/><ellipse class="L" cx="135.5"/><ellipse class="L" cx="187.5"/><ellipse class="N" cx="239.5"/><ellipse class="N" cx="291.5"/><ellipse class="L" cx="343.5"/><ellipse class="W" cx="395.5"/><ellipse class="W" cx="447.5"/><ellipse class="W" cx="499.5"/><ellipse class="W" cx="551.5"/><text class="ar" x="83.5 135.5 187.5 239.5 291.5 343.5 395.5 447.5 499.5 551.5" y="6">←←←<tspan class="w">←←</tspan>←←←←←</text><text class="nl" x="21" y="4.3">30</text><text class="nr" x="614" y="4.3">30</text></g>
<g id="row-31" transform="translate(0 1621.5)"><path class="ll" d="M26 0H66M570 0H610"/><ellipse class="L" cx="83.5"/><ellipse class="L" cx="135.5"/><ellipse class="L" cx="187.5"/><ellipse class="W" cx="239.5"/><ellipse class="N" cx="291.5"/><ellipse class="N" cx="343.5"/><ellipse class="W" cx="395.5"/><ellipse class="W" cx="447.5"/><ellipse class="W" cx="499.5"/><ellipse class="W" cx="551.5"/><text class="ar" x="83.5 135.5 187.5 239.5 291.5 343.5 395.5 447.5 499.5 551.5" y="6">→→→→<tspan class="w">→→</tspan>→→→→</text><text class="nl" x="21" y="4.3">31</text><text class="nr" x="614" y="4.3">31</text></g>
<g id="row-32" transform="translate(0 1673.5)"><path class="ll" d="M26 0H66M570 0H610"/><ellipse class="L" cx="83.5"/><ellipse class="L" cx="135.5"/><ellipse class="L" cx="187.5"/><ellipse class="W" cx="239.5"/><ellipse class="W" cx="291.5"/><ellipse class="N" cx="343.5"/><ellipse class="N" cx="395.5"/><ellipse class="W" cx="447.5"/><ellipse class="W" cx="499.5"/><ellipse class="W" cx="551.5"/><text class="ar" x="83.5 135.5 187.5 239.5 291.5 343.5 395.5 447.5 499.5 551.5" y="6">←←←←←<tspan class="w">←←</tspan>←←←</text><text class="nl" x="21" y="4.3">32</text><text class="nr" x="614" y="4.3">32</text></g>
<g id="row-33" transform="translate(0 1725.5)"><path class="ll" d="M26 0H66M570 0H610"/><ellipse class="W" cx="83.5"/><ellipse class="W" cx="135.5"/><ellipse class="L" cx="187.5"/><ellipse class="L" cx="239.5"/><ellipse class="L" cx="291.5"/><ellipse class="L" cx="343.5"/><ellipse class="N" cx="395.5"/><ellipse class="N" cx="447.5"/><ellipse class="W" cx="499.5"/><ellipse class="W" cx="551.5"/><text class="ar" x="83.5 135.5 187.5 239.5 291.5 343.5 395.5 447.5 499.5 551.5" y="6">→→→→→→<tspan class="w">→→</tspan>→→</text><text class="nl" x="21" y="4.3">33</text><text class="nr" x="614" y="4.3">33</text></g>
<g id="row-34" transform="translate(0 1777.5)"><path class="ll" d="M26 0H66M570 0H610"/><ellipse class="W" cx="83.5"/><ellipse class="W" cx="135.5"/><ellipse class="L" cx="187.5"/><ellipse class="L" cx="239.5"/><ellipse class="L" cx="291.5"/><ellipse class="L" cx="343.5"/><ellipse class="N" cx="395.5"/><ellipse class="N" cx="447.5"/><ellipse class="L" cx="499.5"/><ellipse class="L" cx="551.5"/><text class="ar" x="83.5 135.5 187.5 239.5 291.5 343.5 395.5 447.5 499.5 551.5" y="6">←←←←←←<tspan class="w">←←</tspan>←←</text><text class="nl" x="21" y="4.3">34</text><text class="nr" x="614" y="4.3">34</text></g>
<g id="row-35" transform="translate(0 1829.5)"><path class="ll" d="M26 0H66M570 0H610"/><ellipse class="P" cx="83.5"/><ellipse class="L" cx="135.5"/><ellipse class="L" cx="187.5"/><ellipse class="L" cx="239.5"/><ellipse class="L" cx="291.5"/><ellipse class="L" cx="343.5"/><ellipse class="N" cx="395.5"/><ellipse class="N" cx="447.5"/><ellipse class="P" cx="499.5"/><ellipse class="L" cx="551.5"/><text class="ar" x="83.5 135.5 187.5 239.5 291.5 343.5 395.5 447.5 499.5 551.5" y="6"><tspan class="w">→</tspan>→→→→→<tspan class="w">→→→</tspan>→</text><text class="nl" x="21" y="4.3">35</text><text class="nr" x="614" y="4.3">35</text></g>
<g id="row-36" transform="translate(0 1881.5)"><path class="ll" d="M26 0H66M570 0H610"/><ellipse class="L" cx="83.5"/><ellipse class="L" cx="135.5"/><ellipse class="L" cx="187.5"/><ellipse class="L" cx="239.5"/><ellipse class="L" cx="291.5"/><ellipse class="L" cx="343.5"/><ellipse class="P" cx="395.5"/><ellipse class="N" cx="447.5"/><ellipse class="N" cx="499.5"/><ellipse class="L" cx="551.5"/><text class="ar" x="83.5 135.5 187.5 239.5 291.5 343.5 395.5 447.5 499.5 551.5" y="6">←←←←←←<tspan class="w">←←←</tspan>←</text><text class="nl" x="21" y="4.3">36</text><text class="nr" x="614" y="4.3">36</text></g>
<g id="row-37" transform="translate(0 1933.5)"><path class="ll" d="M26 0H66M570 0H610"/><ellipse class="L" cx="83.5"/><ellipse class="L" cx="135.5"/><ellipse class="L" cx="187.5"/><ellipse class="W" cx="239.5"/><ellipse class="W" cx="291.5"/><ellipse class="L" cx="343.5"/><ellipse class="N" cx="395.5"/><ellipse class="N" cx="447.5"/><ellipse class="N" cx="499.5"/><ellipse class="L" cx="551.5"/><text class="ar" x="83.5 135.5 187.5 239.5 291.5 343.5 395.5 447.5 499.5 551.5" y="6">→→→→→→<tspan class="w">→→→</tspan>→</text><text class="nl" x="21" y="4.3">37</text><text class="nr" x="614" y="4.3">37</text></g>
<g id="row-38" transform="translate(0 1985.5)"><path class="ll" d="M26 0H66M570 0H610"/><ellipse class="L" cx="83.5"/><ellipse class="L" cx="135.5"/><ellipse class="W" cx="187.5"/><ellipse class="W" cx="239.5"/><ellipse class="W" cx="291.5"/><ellipse class="W" cx="343.5"/><ellipse class="N" cx="395.5"/><ellipse class="N" cx="447.5"/><ellipse class="P" cx="499.5"/><ellipse class="L" cx="551.5"/><text class="ar" x="83.5 135.5 187.5 239.5 291.5 343.5 395.5 447.5 499.5 551.5" y="6">←←←←←←<tspan class="w">←←←</tspan>←</text><text class="nl" x="21" y="4.3">38</text><text class="nr" x="614" y="4.3">38</text></g>
<g id="row-39" transform="translate(0 2037.5)"><path class="ll" d="M26 0H66M570 0H610"/><ellipse class="L" cx="83.5"/><ellipse class="N" cx="135.5"/><ellipse class="N" cx="187.5"/><ellipse class="W" cx="239.5"/><ellipse class="W" cx="291.5"/><ellipse class="N" cx="343.5"/><ellipse class="N" cx="395.5"/><ellipse class="P" cx="447.5"/><ellipse class="N" cx="499.5"/><ellipse class="W" cx="551.5"/><text class="ar" x="83.5 135.5 187.5 239.5 291.5 343.5 395.5 447.5 499.5 551.5" y="6">→<tspan class="w">→→</tspan>→→<tspan class="w">→→→→</tspan>→</text><text class="nl" x="21" y="4.3">39</text><text class="nr" x="614" y="4.3">39</text></g>
<g id="row-40" transform="translate(0 2089.5)"><path class="ll" d="M26 0H66M570 0H610"/><ellipse class="L" cx="83.5"/><ellipse class="L" cx="135.5"/><ellipse class="N" cx="187.5"/><ellipse class="N" cx="239.5"/><ellipse class="N" cx="291.5"/><ellipse class="N" cx="343.5"/><ellipse class="N" cx="395.5"/><ellipse class="N" cx="447.5"/><ellipse class="N" cx="499.5"/><ellipse class="W" cx="551.5"/><text class="ar" x="83.5 135.5 187.5 239.5 291.5 343.5 395.5 447.5 499.5 551.5" y="6">←←<tspan class="w">←←←←←←←</tspan>←</text><text class="nl" x="21" y="4.3">40</text><text class="nr" x="614" y="4.3">40</text></g>
<g id="row-41" transform="translate(0 2141.5)"><path class="ll" d="M26 0H66M570 0H610"/><ellipse class="W" cx="83.5"/><ellipse class="W" cx="135.5"/><ellipse class="L" cx="187.5"/><ellipse class="N" cx="239.5"/><ellipse class="P" cx="291.5"/><ellipse class="N" cx="343.5"/><ellipse class="P" cx="395.5"/><ellipse class="N" cx="447.5"/><ellipse class="W" cx="499.5"/><ellipse class="W" cx="551.5"/><text class="ar" x="83.5 135.5 187.5 239.5 291.5 343.5 395.5 447.5 499.5 551.5" y="6">→→→<tspan class="w">→→→→→</tspan>→→</text><text class="nl" x="21" y="4.3">41</text><text class="nr" x="614" y="4.3">41</text></g>
<g id="row-42" transform="translate(0 2193.5)"><path class="ll" d="M26 0H66M570 0H610"/><ellipse class="W" cx="83.5"/><ellipse class="N" cx="135.5"/><ellipse class="N" cx="187.5"/><ellipse class="P" cx="239.5"/><ellipse class="N" cx="291.5"/><ellipse class="P" cx="343.5"/><ellipse class="N" cx="395.5"/><ellipse class="N" cx="447.5"/><ellipse class="W" cx="499.5"/><ellipse class="W" cx="551.5"/><text class="ar" x="83.5 135.5 187.5 239.5 291.5 343.5 395.5 447.5 499.5 551.5" y="6">←<tspan class="w">←←←←←←←</tspan>←←</text><text class="nl" x="21" y="4.3">42</text><text class="nr" x="614" y="4.3">42</text></g>
<g id="row-43" transform="translate(0 2245.5)"><path class="ll" d="M26 0H66M570 0H610"/><ellipse class="W" cx="83.5"/><ellipse class="N" cx="135.5"/><ellipse class="P" cx="187.5"/><ellipse class="N" cx="239.5"/><ellipse class="P" cx="291.5"/><ellipse class="N" cx="343.5"/><ellipse class="P" cx="395.5"/><ellipse class="N" cx="447.5"/><ellipse class="N" cx="499.5"/><ellipse class="N" cx="551.5"/><text class="ar" x="83.5 135.5 187.5 239.5 291.5 343.5 395.5 447.5 499.5 551.5" y="6">→<tspan class="w">→→→→→→→→→</tspan></text><text class="nl" x="21" y="4.3">43</text><text class="nr" x="614" y="4.3">43</text></g>
<g id="row-44" transform="translate(0 2297.5)"><path class="ll" d="M26 0H66M570 0H610"/><ellipse class="N" cx="83.5"/><ellipse class="N" cx="135.5"/><ellipse class="N" cx="187.5"/><ellipse class="P" cx="239.5"/><ellipse class="N" cx="291.5"/><ellipse class="N" cx="343.5"/><ellipse class="N" cx="395.5"/><ellipse class="N" cx="447.5"/><ellipse class="L" cx="499.5"/><ellipse class="L" cx="551.5"/><text class="ar" x="83.5 135.5 187.5 239.5 291.5 343.5 395.5 447.5 499.5 551.5" y="6"><tspan class="w">←←←←←←←←</tspan>←←</text><text class="nl" x="21" y="4.3">44</text><text class="nr" x="614" y="4.3">44</text></g>
<g id="row-45" transform="translate(0 2349.5)"><path class="ll" d="M26 0H66M570 0H610"/><ellipse class="L" cx="83.5"/><ellipse class="N" cx="135.5"/><ellipse class="N" cx="187.5"/><ellipse class="N" cx="239.5"/><ellipse class="N" cx="291.5"/><ellipse class="P" cx="343.5"/><ellipse class="N" cx="395.5"/><ellipse class="L" cx="447.5"/><ellipse class="L" cx="499.5"/><ellipse class="L" cx="551.5"/><text class="ar" x="83.5 135.5 187.5 239.5 291.5 343.5 395.5 447.5 499.5 551.5" y="6">→<tspan class="w">→→→→→→</tspan>→→→</text><text class="nl" x="21" y="4.3">45</text><text class="nr" x="614" y="4.3">45</text></g>
<g id="row-46" transform="translate(0 2401.5)"><path class="ll" d="M26 0H66M570 0H610"/><ellipse class="L" cx="83.5"/><ellipse class="L" cx="135.5"/><ellipse class="N" cx="187.5"/><ellipse class="N" cx="239.5"/><ellipse class="P" cx="291.5"/><ellipse class="N" cx="343.5"/><ellipse class="W" cx="395.5"/><ellipse class="L" cx="447.5"/><ellipse class="W" cx="499.5"/><ellipse class="W" cx="551.5"/><text class="ar" x="83.5 135.5 187.5 239.5 291.5 343.5 395.5 447.5 499.5 551.5" y="6">←←<tspan class="w">←←←←</tspan>←←←←</text><text class="nl" x="21" y="4.3">46</text><text class="nr" x="614" y="4.3">46</text></g>
<g id="row-47" transform="translate(0 2453.5)"><path class="ll" d="M26 0H66M570 0H610"/><ellipse class="L" cx="83.5"/><ellipse class="L" cx="135.5"/><ellipse class="W" cx="187.5"/><ellipse class="N" cx="239.5"/><ellipse class="N" cx="291.5"/><ellipse class="W" cx="343.5"/><ellipse class="W" cx="395.5"/><ellipse class="L" cx="447.5"/><ellipse class="W" cx="499.5"/><ellipse class="W" cx="551.5"/><text class="ar" x="83.5 135.5 187.5 239.5 291.5 343.5 395.5 447.5 499.5 551.5" y="6">→→→<tspan class="w">→→</tspan>→→→→→</text><text class="nl" x="21" y="4.3">47</text><text class="nr" x="614" y="4.3">47</text></g>
<g id="row-48" transform="translate(0 2505.5)"><path class="ll" d="M26 0H66M570 0H610"/><ellipse class="L" cx="83.5"/><ellipse class="L" cx="135.5"/><ellipse class="W" cx="187.5"/><ellipse class="W" cx="239.5"/><ellipse class="W" cx="291.5"/><ellipse class="W" cx="343.5"/><ellipse class="W" cx="395.5"/><ellipse class="L" cx="447.5"/><ellipse class="W" cx="499.5"/><ellipse class="W" cx="551.5"/><text class="ar" x="83.5 135.5 187.5 239.5 291.5 343.5 395.5 447.5 499.5 551.5" y="6">←←←←←←←←←←</text><text class="nl" x="21" y="4.3">48</text><text class="nr" x="614" y="4.3">48</text></g>
<g id="row-49" transform="translate(0 2557.5)"><path class="ll" d="M26 0H66M570 0H610"/><ellipse class="L" cx="83.5"/><ellipse class="L" cx="135.5"/><ellipse class="L" cx="187.5"/><ellipse class="W" cx="239.5"/><ellipse class="W" cx="291.5"/><ellipse class="W" cx="343.5"/><ellipse class="L" cx="395.5"/><ellipse class="L" cx="447.5"/><ellipse class="L" cx="499.5"/><ellipse class="L" cx="551.5"/><text class="ar" x="83.5 135.5 187.5 239.5 291.5 343.5 395.5 447.5 499.5 551.5" y="6">→→→→→→→→→→</text><text class="nl" x="21" y="4.3">49</text><text class="nr" x="614" y="4.3">49</text></g>
<g id="row-50" transform="translate(0 2609.5)"><path class="ll" d="M26 0H66M570 0H610"/><ellipse class="W" cx="83.5"/><ellipse class="W" cx="135.5"/><ellipse class="L" cx="187.5"/><ellipse class="L" cx="239.5"/><ellipse class="L" cx="291.5"/><ellipse class="L" cx="343.5"/><ellipse class="L" cx="395.5"/><ellipse class="L" cx="447.5"/><ellipse class="L" cx="499.5"/><ellipse class="L" cx="551.5"/><text class="ar" x="83.5 135.5 187.5 239.5 291.5 343.5 395.5 447.5 499.5 551.5" y="6">←←←←←←←←←←</text><text class="nl" x="21" y="4.3">50</text><text class="nr" x="614" y="4.3">50</text></g>
<g id="row-51" transform="translate(0 2661.5)"><path class="ll" d="M26 0H66M570 0H610"/><ellipse class="W" cx="83.5"/><ellipse class="W" cx="135.5"/><ellipse class="L" cx="187.5"/><ellipse class="L" cx="239.5"/><ellipse class="L" cx="291.5"/><ellipse class="L" cx="343.5"/><ellipse class="L" cx="395.5"/><ellipse class="L" cx="447.5"/><ellipse class="L" cx="499.5"/><ellipse class="L" cx="551.5"/><text class="ar" x="83.5 135.5 187.5 239.5 291.5 343.5 395.5 447.5 499.5 551.5" y="6">→→→→→→→→→→</text><text class="nl" x="21" y="4.3">51</text><text class="nr" x="614" y="4.3">51</text></g>
<g id="row-52" transform="translate(0 2713.5)"><path class="ll" d="M26 0H66M570 0H610"/><ellipse class="L" cx="83.5"/><ellipse class="L" cx="135.5"/><ellipse class="L" cx="187.5"/><ellipse class="L" cx="239.5"/><ellipse class="L" cx="291.5"/><ellipse class="N" cx="343.5"/><ellipse class="W" cx="395.5"/><ellipse class="L" cx="447.5"/><ellipse class="L" cx="499.5"/><ellipse class="L" cx="551.5"/><text class="ar" x="83.5 135.5 187.5 239.5 291.5 343.5 395.5 447.5 499.5 551.5" y="6">←←←←←<tspan class="w">←</tspan>←←←←</text><text class="nl" x="21" y="4.3">52</text><text class="nr" x="614" y="4.3">52</text></g>
<g id="row-53" transform="translate(0 2765.5)"><path class="ll" d="M26 0H66M570 0H610"/><ellipse class="L" cx="83.5"/><ellipse class="L" cx="135.5"/><ellipse class="L" cx="187.5"/><ellipse class="L" cx="239.5"/><ellipse class="W" cx="291.5"/><ellipse class="N" cx="343.5"/><ellipse class="W" cx="395.5"/><ellipse class="W" cx="447.5"/><ellipse class="L" cx="499.5"/><ellipse class="L" cx="551.5"/><text class="ar" x="83.5 135.5 187.5 239.5 291.5 343.5 395.5 447.5 499.5 551.5" y="6">→→→→→<tspan class="w">→</tspan>→→→→</text><text class="nl" x="21" y="4.3">53</text><text class="nr" x="614" y="4.3">53</text></g>
<g id="row-54" transform="translate(0 2817.5)"><path class="ll" d="M26 0H66M570 0H610"/><ellipse class="L" cx="83.5"/><ellipse class="L" cx="135.5"/><ellipse class="L" cx="187.5"/><ellipse class="L" cx="239.5"/><ellipse class="W" cx="291.5"/><ellipse class="N" cx="343.5"/><ellipse class="N" cx="395.5"/><ellipse class="W" cx="447.5"/><ellipse class="L" cx="499.5"/><ellipse class="L" cx="551.5"/><text class="ar" x="83.5 135.5 187.5 239.5 291.5 343.5 395.5 447.5 499.5 551.5" y="6">←←←←←<tspan class="w">←←</tspan>←←←</text><text class="nl" x="21" y="4.3">54</text><text class="nr" x="614" y="4.3">54</text></g>
<g id="row-55" transform="translate(0 2869.5)"><path class="ll" d="M26 0H66M570 0H610"/><ellipse class="W" cx="83.5"/><ellipse class="W" cx="135.5"/><ellipse class="L" cx="187.5"/><ellipse class="L" cx="239.5"/><ellipse class="L" cx="291.5"/><ellipse class="N" cx="343.5"/><ellipse class="N" cx="395.5"/><ellipse class="L" cx="447.5"/><ellipse class="L" cx="499.5"/><ellipse class="L" cx="551.5"/><text class="ar" x="83.5 135.5 187.5 239.5 291.5 343.5 395.5 447.5 499.5 551.5" y="6">→→→→→<tspan class="w">→→</tspan>→→→</text><text class="nl" x="21" y="4.3">55</text><text class="nr" x="614" y="4.3">55</text></g>
<g id="row-56" transform="translate(0 2921.5)"><path class="ll" d="M26 0H66M570 0H610"/><ellipse class="W" cx="83.5"/><ellipse class="W" cx="135.5"/><ellipse class="W" cx="187.5"/><ellipse class="L" cx="239.5"/><ellipse class="N" cx="291.5"/><ellipse class="P" cx="343.5"/><ellipse class="L" cx="395.5"/><ellipse class="L" cx="447.5"/><ellipse class="L" cx="499.5"/><ellipse class="L" cx="551.5"/><text class="ar" x="83.5 135.5 187.5 239.5 291.5 343.5 395.5 447.5 499.5 551.5" y="6">←←←←<tspan class="w">←←</tspan>←←←←</text><text class="nl" x="21" y="4.3">56</text><text class="nr" x="614" y="4.3">56</text></g>
<g id="row-57" transform="translate(0 2973.5)"><path class="ll" d="M26 0H66M570 0H610"/><ellipse class="W" cx="83.5"/><ellipse class="W" cx="135.5"/><ellipse class="W" cx="187.5"/><ellipse class="N" cx="239.5"/><ellipse class="N" cx="291.5"/><ellipse class="L" cx="343.5"/><ellipse class="L" cx="395.5"/><ellipse class="L" cx="447.5"/><ellipse class="W" cx="499.5"/><ellipse class="W" cx="551.5"/><text class="ar" x="83.5 135.5 187.5 239.5 291.5 343.5 395.5 447.5 499.5 551.5" y="6">→→→<tspan class="w">→→</tspan>→→→→→</text><text class="nl" x="21" y="4.3">57</text><text class="nr" x="614" y="4.3">57</text></g>
<g id="row-58" transform="translate(0 3025.5)"><path class="ll" d="M26 0H66M570 0H610"/><ellipse class="W" cx="83.5"/><ellipse class="W" cx="135.5"/><ellipse class="N" cx="187.5"/><ellipse class="N" cx="239.5"/><ellipse class="L" cx="291.5"/><ellipse class="L" cx="343.5"/><ellipse class="L" cx="395.5"/><ellipse class="W" cx="447.5"/><ellipse class="W" cx="499.5"/><ellipse class="W" cx="551.5"/><text class="ar" x="83.5 135.5 187.5 239.5 291.5 343.5 395.5 447.5 499.5 551.5" y="6">←←<tspan class="w">←←</tspan>←←←←←←</text><text class="nl" x="21" y="4.3">58</text><text class="nr" x="614" y="4.3">58</text></g>
<g id="row-59" transform="translate(0 3077.5)"><path class="ll" d="M26 0H66M570 0H610"/><ellipse class="W" cx="83.5"/><ellipse class="W" cx="135.5"/><ellipse class="N" cx="187.5"/><ellipse class="N" cx="239.5"/><ellipse class="L" cx="291.5"/><ellipse class="L" cx="343.5"/><ellipse class="L" cx="395.5"/><ellipse class="L" cx="447.5"/><ellipse class="W" cx="499.5"/><ellipse class="W" cx="551.5"/><text class="ar" x="83.5 135.5 187.5 239.5 291.5 343.5 395.5 447.5 499.5 551.5" y="6">→→<tspan class="w">→→</tspan>→→→→→→</text><text class="nl" x="21" y="4.3">59</text><text class="nr" x="614" y="4.3">59</text></g>
<g id="row-60" transform="translate(0 3129.5)"><path class="ll" d="M26 0H66M570 0H610"/><ellipse class="L" cx="83.5"/><ellipse class="N" cx="135.5"/><ellipse class="N" cx="187.5"/><ellipse class="P" cx="239.5"/><ellipse class="L" cx="291.5"/><ellipse class="L" cx="343.5"/><ellipse class="L" cx="395.5"/><ellipse class="L" cx="447.5"/><ellipse class="L" cx="499.5"/><ellipse class="L" cx="551.5"/><text class="ar" x="83.5 135.5 187.5 239.5 291.5 343.5 395.5 447.5 499.5 551.5" y="6">←<tspan class="w">←←←</tspan>←←←←←←</text><text class="nl" x="21" y="4.3">60</text><text class="nr" x="614" y="4.3">60</text></g>
<g id="row-61" transform="translate(0 3181.5)"><path class="ll" d="M26 0H66M570 0H610"/><ellipse class="L" cx="83.5"/><ellipse class="N" cx="135.5"/><ellipse class="N" cx="187.5"/><ellipse class="N" cx="239.5"/><ellipse class="W" cx="291.5"/><ellipse class="L" cx="343.5"/><ellipse class="L" cx="395.5"/><ellipse class="L" cx="447.5"/><ellipse class="L" cx="499.5"/><ellipse class="L" cx="551.5"/><text class="ar" x="83.5 135.5 187.5 239.5 291.5 343.5 395.5 447.5 499.5 551.5" y="6">→<tspan class="w">→→→</tspan>→→→→→→</text><text class="nl" x="21" y="4.3">61</text><text class="nr" x="614" y="4.3">61</text></g>
<g id="row-62" transform="translate(0 3233.5)"><path class="ll" d="M26 0H66M570 0H610"/><ellipse class="L" cx="83.5"/><ellipse class="N" cx="135.5"/><ellipse class="P" cx="187.5"/><ellipse class="N" cx="239.5"/><ellipse class="W" cx="291.5"/><ellipse class="W" cx="343.5"/><ellipse class="W" cx="395.5"/><ellipse class="L" cx="447.5"/><ellipse class="L" cx="499.5"/><ellipse class="L" cx="551.5"/><text class="ar" x="83.5 135.5 187.5 239.5 291.5 343.5 395.5 447.5 499.5 551.5" y="6">←<tspan class="w">←←←</tspan>←←←←←←</text><text class="nl" x="21" y="4.3">62</text><text class="nr" x="614" y="4.3">62</text></g>
<g id="row-63" transform="translate(0 3285.5)"><path class="ll" d="M26 0H66M570 0H610"/><ellipse class="L" cx="83.5"/><ellipse class="N" cx="135.5"/><ellipse class="N" cx="187.5"/><ellipse class="N" cx="239.5"/><ellipse class="N" cx="291.5"/><ellipse class="W" cx="343.5"/><ellipse class="W" cx="395.5"/><ellipse class="N" cx="447.5"/><ellipse class="N" cx="499.5"/><ellipse class="L" cx="551.5"/><text class="ar" x="83.5 135.5 187.5 239.5 291.5 343.5 395.5 447.5 499.5 551.5" y="6">→<tspan class="w">→→→→</tspan>→→<tspan class="w">→→</tspan>→</text><text class="nl" x="21" y="4.3">63</text><text class="nr" x="614" y="4.3">63</text></g>
<g id="row-64" transform="translate(0 3337.5)"><path class="ll" d="M26 0H66M570 0H610"/><ellipse class="L" cx="83.5"/><ellipse class="N" cx="135.5"/><ellipse class="N" cx="187.5"/><ellipse class="P" cx="239.5"/><ellipse class="N" cx="291.5"/><ellipse class="N" cx="343.5"/><ellipse class="N" cx="395.5"/><ellipse class="N" cx="447.5"/><ellipse class="L" cx="499.5"/><ellipse class="L" cx="551.5"/><text class="ar" x="83.5 135.5 187.5 239.5 291.5 343.5 395.5 447.5 499.5 551.5" y="6">←<tspan class="w">←←←←←←←</tspan>←←</text><text class="nl" x="21" y="4.3">64</text><text class="nr" x="614" y="4.3">64</text></g>
<g id="row-65" transform="translate(0 3389.5)"><path class="ll" d="M26 0H66M570 0H610"/><ellipse class="W" cx="83.5"/><ellipse class="W" cx="135.5"/><ellipse class="N" cx="187.5"/><ellipse class="N" cx="239.5"/><ellipse class="N" cx="291.5"/><ellipse class="P" cx="343.5"/><ellipse class="N" cx="395.5"/><ellipse class="L" cx="447.5"/><ellipse class="L" cx="499.5"/><ellipse class="L" cx="551.5"/><text class="ar" x="83.5 135.5 187.5 239.5 291.5 343.5 395.5 447.5 499.5 551.5" y="6">→→<tspan class="w">→→→→→</tspan>→→→</text><text class="nl" x="21" y="4.3">65</text><text class="nr" x="614" y="4.3">65</text></g>
<g id="row-66" transform="translate(0 3441.5)"><path class="ll" d="M26 0H66M570 0H610"/><ellipse class="W" cx="83.5"/><ellipse class="W" cx="135.5"/><ellipse class="N" cx="187.5"/><ellipse class="N" cx="239.5"/><ellipse class="N" cx="291.5"/><ellipse class="N" cx="343.5"/><ellipse class="P" cx="395.5"/><ellipse class="N" cx="447.5"/><ellipse class="N" cx="499.5"/><ellipse class="W" cx="551.5"/><text class="ar" x="83.5 135.5 187.5 239.5 291.5 343.5 395.5 447.5 499.5 551.5" y="6">←←<tspan class="w">←←←←←←←</tspan>←</text><text class="nl" x="21" y="4.3">66</text><text class="nr" x="614" y="4.3">66</text></g>
<g id="row-67" transform="translate(0 3493.5)"><path class="ll" d="M26 0H66M570 0H610"/><ellipse class="W" cx="83.5"/><ellipse class="W" cx="135.5"/><ellipse class="N" cx="187.5"/><ellipse class="P" cx="239.5"/><ellipse class="N" cx="291.5"/><ellipse class="N" cx="343.5"/><ellipse class="N" cx="395.5"/><ellipse class="N" cx="447.5"/><ellipse class="N" cx="499.5"/><ellipse class="W" cx="551.5"/><text class="ar" x="83.5 135.5 187.5 239.5 291.5 343.5 395.5 447.5 499.5 551.5" y="6">→→<tspan class="w">→→→→→→→</tspan>→</text><text class="nl" x="21" y="4.3">67</text><text class="nr" x="614" y="4.3">67</text></g>
<g id="row-68" transform="translate(0 3545.5)"><path class="ll" d="M26 0H66M570 0H610"/><ellipse class="N" cx="83.5"/><ellipse class="N" cx="135.5"/><ellipse class="N" cx="187.5"/><ellipse class="N" cx="239.5"/><ellipse class="P" cx="291.5"/><ellipse class="N" cx="343.5"/><ellipse class="N" cx="395.5"/><ellipse class="P" cx="447.5"/><ellipse class="N" cx="499.5"/><ellipse class="N" cx="551.5"/><text class="ar" x="83.5 135.5 187.5 239.5 291.5 343.5 395.5 447.5 499.5 551.5" y="6"><tspan class="w">←←←←←←←←←←</tspan></text><text class="nl" x="21" y="4.3">68</text><text class="nr" x="614" y="4.3">68</text></g>
<g id="row-69" transform="translate(0 3597.5)"><path class="ll" d="M26 0H66"/><ellipse class="L" cx="83.5"/><ellipse class="L" cx="135.5"/><ellipse class="N" cx="187.5"/><ellipse class="N" cx="239.5"/><ellipse class="N" cx="291.5"/><ellipse class="P" cx="343.5"/><ellipse class="N" cx="395.5"/><ellipse class="N" cx="447.5"/><ellipse class="N" cx="499.5"/><ellipse class="W" cx="551.5"/><text class="ar" x="83.5 135.5 187.5 239.5 291.5 343.5 395.5 447.5 499.5 551.5" y="6">→→<tspan class="w">→→→→→→→</tspan>→</text><text class="nl" x="21" y="4.3">69</text><text class="nr" x="614" y="4.3">69</text></g>
<g id="row-70" transform="translate(0 3649.5)"><path class="ll" d="M26 0H66M570 0H610"/><ellipse class="L" cx="83.5"/><ellipse class="L" cx="135.5"/><ellipse class="W" cx="187.5"/><ellipse class="W" cx="239.5"/><ellipse class="N" cx="291.5"/><ellipse class="N" cx="343.5"/><ellipse class="N" cx="395.5"/><ellipse class="N" cx="447.5"/><ellipse class="W" cx="499.5"/><ellipse class="W" cx="551.5"/><text class="ar" x="83.5 135.5 187.5 239.5 291.5 343.5 395.5 447.5 499.5 551.5" y="6">←←←←<tspan class="w">←←←←</tspan>←←</text><text class="nl" x="21" y="4.3">70</text><text class="nr" x="614" y="4.3">70</text></g>
<g id="row-71" transform="translate(0 3701.5)"><path class="ll" d="M26 0H66"/><ellipse class="L" cx="83.5"/><ellipse class="W" cx="135.5"/><ellipse class="W" cx="187.5"/><ellipse class="W" cx="239.5"/><ellipse class="W" cx="291.5"/><ellipse class="N" cx="343.5"/><ellipse class="N" cx="395.5"/><ellipse class="L" cx="447.5"/><ellipse class="L" cx="499.5"/><ellipse class="W" cx="551.5"/><text class="ar" x="83.5 135.5 187.5 239.5 291.5 343.5 395.5 447.5 499.5 551.5" y="6">→→→→→<tspan class="w">→→</tspan>→→→</text><text class="nl" x="21" y="4.3">71</text><text class="nr" x="614" y="4.3">71</text></g>
<g id="row-72" transform="translate(0 3753.5)"><path class="ll" d="M26 0H66M570 0H610"/><ellipse class="L" cx="83.5"/><ellipse class="L" cx="135.5"/><ellipse class="W" cx="187.5"/><ellipse class="W" cx="239.5"/><ellipse class="W" cx="291.5"/><ellipse class="L" cx="343.5"/><ellipse class="L" cx="395.5"/><ellipse class="L" cx="447.5"/><ellipse class="L" cx="499.5"/><ellipse class="L" cx="551.5"/><text class="ar" x="83.5 135.5 187.5 239.5 291.5 343.5 395.5 447.5 499.5 551.5" y="6">←←←←←←←←←←</text><text class="nl" x="21" y="4.3">72</text><text class="nr" x="614" y="4.3">72</text></g>
<g id="row-73" transform="translate(0 3805.5)"><path class="ll" d="M26 0H66M570 0H610"/><ellipse class="L" cx="83.5"/><ellipse class="L" cx="135.5"/><ellipse class="L" cx="187.5"/><ellipse class="L" cx="239.5"/><ellipse class="L" cx="291.5"/><ellipse class="L" cx="343.5"/><ellipse class="L" cx="395.5"/><ellipse class="L" cx="447.5"/><ellipse class="L" cx="499.5"/><ellipse class="L" cx="551.5"/><text class="ar" x="83.5 135.5 187.5 239.5 291.5 343.5 395.5 447.5 499.5 551.5" y="6">→→→→→→→→→→</text><text class="nl" x="21" y="4.3">73</text><text class="nr" x="614" y="4.3">73</text></g>
<g id="row-74" transform="translate(0 3857.5)"><path class="ll" d="M26 0H66M570 0H610"/><ellipse class="W" cx="83.5"/><ellipse class="L" cx="135.5"/><ellipse class="L" cx="187.5"/><ellipse class="L" cx="239.5"/><ellipse class="L" cx="291.5"/><ellipse class="L" cx="343.5"/><ellipse class="W" cx="395.5"/><ellipse class="W" cx="447.5"/><ellipse class="L" cx="499.5"/><ellipse class="L" cx="551.5"/><text class="ar" x="83.5 135.5 187.5 239.5 291.5 343.5 395.5 447.5 499.5 551.5" y="6">←←←←←←←←←←</text><text class="nl" x="21" y="4.3">74</text><text class="nr" x="614" y="4.3">74</text></g>
<g id="row-75" transform="translate(0 3909.5)"><path class="ll" d="M26 0H66M570 0H610"/><ellipse class="W" cx="83.5"/><ellipse class="W" cx="135.5"/><ellipse class="L" cx="187.5"/><ellipse class="L" cx="239.5"/><ellipse class="L" cx="291.5"/><ellipse class="W" cx="343.5"/><ellipse class="W" cx="395.5"/><ellipse class="W" cx="447.5"/><ellipse class="W" cx="499.5"/><ellipse class="L" cx="551.5"/><text class="ar" x="83.5 135.5 187.5 239.5 291.5 343.5 395.5 447.5 499.5 551.5" y="6">→→→→→→→→→→</text><text class="nl" x="21" y="4.3">75</text><text class="nr" x="614" y="4.3">75</text></g>
<g id="row-76" transform="translate(0 3961.5)"><path class="ll" d="M570 0H610"/><ellipse class="W" cx="83.5"/><ellipse class="W" cx="135.5"/><ellipse class="L" cx="187.5"/><ellipse class="L" cx="239.5"/><ellipse class="L" cx="291.5"/><ellipse class="W" cx="343.5"/><ellipse class="W" cx="395.5"/><ellipse class="W" cx="447.5"/><ellipse class="W" cx="499.5"/><ellipse class="L" cx="551.5"/><text class="ar" x="83.5 135.5 187.5 239.5 291.5 343.5 395.5 447.5 499.5 551.5" y="6">←←←←←←←←←←</text><text class="nl" x="21" y="4.3">76</text><text class="nr" x="614" y="4.3">76</text></g>
</g>
<text class="wm" x="318" y="2015.5" textLength="156" lengthAdjust="spacingAndGlyphs">BRACELETBOOK.COM</text>
</svg>
